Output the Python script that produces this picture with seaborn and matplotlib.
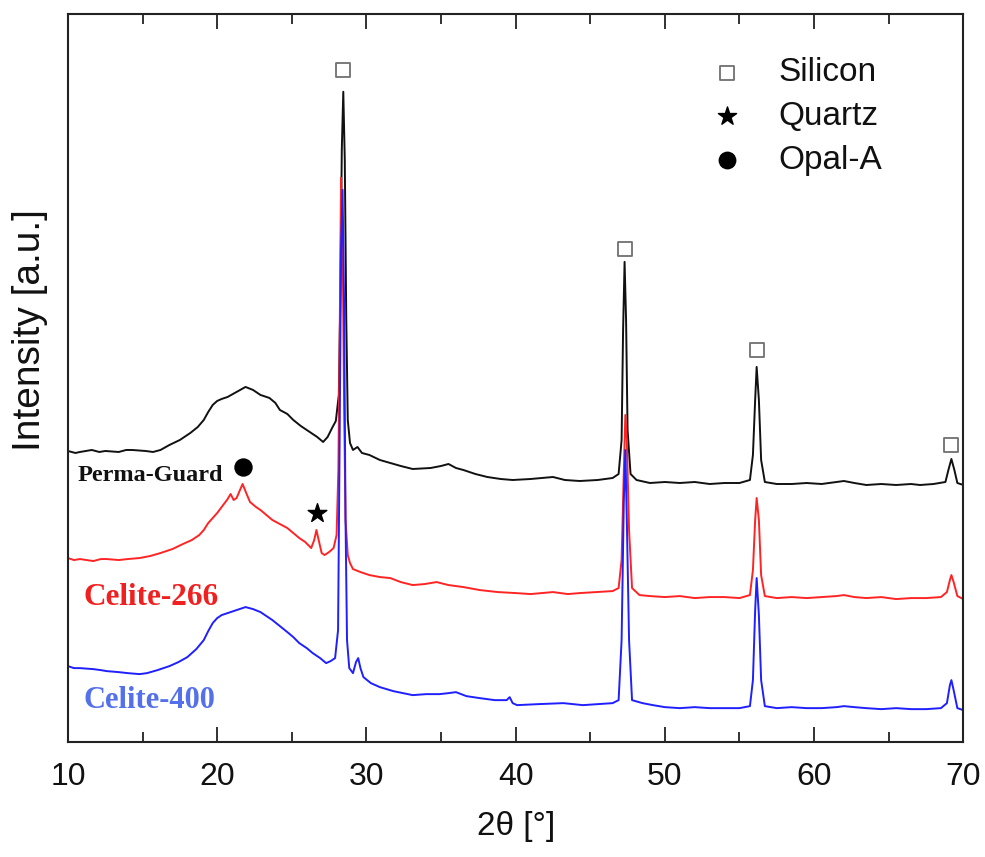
import numpy as np
import pandas as pd
import matplotlib
matplotlib.use("Agg")
import matplotlib.pyplot as plt
import seaborn as sns

# XRD patterns: (2-theta [deg], intensity [a.u.]) with vertical offsets baked in
PERMA_GUARD = [
    (10.0, 291), (10.5, 289), (10.8, 290), (11.6, 292), (12.1, 290), (12.5, 291),
    (13.4, 290), (13.9, 292), (14.3, 292), (15.2, 291), (15.7, 290), (16.2, 292),
    (16.8, 297), (17.5, 302), (18.2, 309), (18.7, 315), (19.1, 322), (19.4, 330),
    (19.7, 337), (20.0, 341), (20.3, 343), (20.7, 345), (21.3, 350), (21.9, 355),
    (22.4, 352), (22.9, 347), (23.5, 344), (23.9, 339), (24.2, 332), (24.7, 328),
    (25.1, 322), (25.6, 316), (26.2, 310), (26.7, 305), (27.1, 300), (27.4, 305),
    (27.7, 314), (27.95, 321), (28.15, 347), (28.25, 442), (28.35, 592), (28.45, 650),
    (28.55, 582), (28.65, 422), (28.75, 322), (28.9, 299), (29.1, 292), (29.4, 295),
    (29.7, 289), (30.2, 287), (30.9, 282), (31.6, 279), (32.3, 276), (33.1, 273),
    (34.3, 274), (35.0, 276), (35.5, 278), (36.0, 274), (36.5, 272), (37.3, 268),
    (38.1, 265), (39.0, 263), (39.8, 262), (41.0, 263), (42.5, 265), (43.3, 262),
    (44.3, 261), (45.5, 262), (46.5, 264), (46.9, 268), (47.1, 302), (47.2, 412),
    (47.3, 480), (47.4, 422), (47.5, 312), (47.7, 268), (48.1, 262), (49.0, 259),
    (50.0, 260), (51.0, 259), (52.0, 260), (53.0, 258), (54.0, 259), (55.0, 259),
    (55.7, 262), (55.9, 287), (56.05, 342), (56.15, 375), (56.3, 342), (56.45, 282),
    (56.7, 260), (57.5, 258), (58.5, 258), (59.5, 259), (60.5, 258), (61.5, 260),
    (62.0, 261), (62.7, 259), (63.5, 257), (64.5, 258), (65.5, 257), (66.5, 258),
    (67.1, 257), (68.0, 258), (68.8, 260), (69.0, 272), (69.2, 283), (69.4, 272),
    (69.6, 259), (70.0, 257),
]

CELITE_266 = [
    (10.0, 184), (10.4, 182), (10.8, 183), (11.7, 181), (12.2, 183), (12.6, 183),
    (13.4, 182), (14.0, 183), (14.8, 184), (15.5, 186), (16.2, 189), (17.0, 193),
    (17.7, 198), (18.3, 202), (18.8, 207), (19.1, 212), (19.4, 219), (19.7, 224),
    (20.0, 229), (20.4, 237), (20.7, 243), (20.9, 248), (21.1, 242), (21.3, 244),
    (21.7, 258), (22.0, 247), (22.2, 240), (22.6, 235), (22.9, 232), (23.3, 227),
    (23.7, 222), (24.2, 218), (24.7, 214), (25.1, 209), (25.5, 204), (25.9, 200),
    (26.3, 194), (26.5, 202), (26.65, 212), (26.8, 202), (27.0, 189), (27.2, 187),
    (27.5, 190), (27.8, 194), (28.0, 207), (28.12, 272), (28.2, 392), (28.3, 564),
    (28.4, 512), (28.5, 342), (28.6, 222), (28.75, 187), (28.9, 179), (29.1, 173),
    (29.6, 170), (30.2, 167), (30.9, 165), (31.6, 164), (32.3, 160), (33.1, 157),
    (33.9, 158), (34.7, 160), (35.5, 157), (36.5, 155), (37.6, 152), (38.8, 150),
    (40.0, 149), (41.0, 148), (42.5, 150), (43.5, 148), (44.3, 149), (45.4, 150),
    (46.5, 151), (46.9, 154), (47.1, 182), (47.25, 272), (47.35, 327), (47.45, 302),
    (47.6, 212), (47.8, 154), (48.3, 147), (49.0, 146), (50.0, 145), (51.0, 146),
    (52.0, 144), (53.0, 145), (54.0, 145), (55.0, 144), (55.7, 147), (55.9, 172),
    (56.05, 222), (56.15, 244), (56.3, 222), (56.45, 167), (56.7, 146), (57.5, 144),
    (58.5, 145), (59.5, 144), (60.5, 145), (61.5, 146), (62.0, 147), (62.7, 145),
    (63.5, 144), (64.5, 145), (65.5, 143), (66.5, 144), (67.5, 144), (68.5, 145),
    (68.9, 150), (69.1, 162), (69.2, 167), (69.35, 160), (69.6, 146), (70.0, 143),
]

CELITE_400 = [
    (10.0, 76), (10.4, 74), (10.8, 74), (11.7, 73), (12.2, 72), (12.6, 71),
    (13.4, 70), (14.0, 69), (14.8, 68), (15.3, 69), (16.0, 72), (16.8, 76),
    (17.4, 80), (18.0, 85), (18.6, 93), (19.1, 102), (19.4, 111), (19.7, 119),
    (20.0, 124), (20.3, 127), (20.7, 129), (21.3, 132), (21.9, 135), (22.4, 133),
    (22.9, 130), (23.3, 126), (23.7, 122), (24.2, 116), (24.7, 110), (25.1, 105),
    (25.5, 99), (26.0, 94), (26.4, 89), (26.9, 84), (27.3, 79), (27.6, 81),
    (27.9, 84), (28.1, 112), (28.2, 292), (28.3, 492), (28.4, 552), (28.5, 442),
    (28.6, 222), (28.7, 102), (28.85, 74), (29.1, 69), (29.3, 80), (29.45, 84),
    (29.6, 74), (29.8, 65), (30.3, 59), (30.9, 55), (31.8, 51), (33.1, 47),
    (34.0, 48), (34.9, 48), (35.5, 49), (36.0, 50), (36.7, 46), (37.6, 44),
    (38.6, 42), (39.4, 42), (39.6, 45), (39.8, 39), (40.1, 37), (41.5, 38),
    (43.2, 39), (44.5, 37), (45.5, 38), (46.5, 39), (46.9, 42), (47.1, 102),
    (47.25, 242), (47.35, 292), (47.45, 222), (47.6, 102), (47.8, 42), (48.5, 39),
    (49.2, 37), (50.0, 35), (51.0, 34), (52.0, 35), (53.0, 34), (54.0, 34),
    (55.0, 34), (55.7, 36), (55.9, 62), (56.05, 132), (56.15, 164), (56.3, 127),
    (56.45, 62), (56.7, 36), (57.5, 34), (58.5, 35), (59.5, 34), (60.5, 34),
    (61.5, 35), (62.0, 36), (62.7, 35), (63.5, 34), (64.5, 33), (65.5, 34),
    (66.5, 33), (67.5, 33), (68.5, 34), (68.9, 39), (69.1, 57), (69.2, 62),
    (69.35, 52), (69.6, 34), (70.0, 32),
]

SAMPLES = ["Perma-Guard", "Celite-266", "Celite-400"]
LINE_COLORS = ["#111111", "#ff2424", "#1f1fff"]
LABEL_COLORS = ["#111111", "#f02020", "#5470ea"]

# phase markers (2-theta, intensity)
SILICON_MARKS = [(28.45, 672), (47.3, 493), (56.2, 392), (69.2, 297)]
QUARTZ_MARKS = [(26.7, 229)]
OPAL_MARKS = [(21.7, 275)]
LEGEND_ENTRIES = ["Silicon", "Quartz", "Opal-A"]

frames = []
for name, pts in zip(SAMPLES, [PERMA_GUARD, CELITE_266, CELITE_400]):
    arr = np.array(pts, dtype=float)
    frames.append(pd.DataFrame({"two_theta": arr[:, 0], "intensity": arr[:, 1], "sample": name}))
df = pd.concat(frames, ignore_index=True)

sns.set_theme(style="white")
plt.rcParams["font.family"] = ["Liberation Sans", "DejaVu Sans"]

fig = plt.figure(figsize=(9.85, 8.57), dpi=100)
ax = fig.add_axes([0.069, 0.134, 0.909, 0.850])

sns.lineplot(data=df, x="two_theta", y="intensity", hue="sample", hue_order=SAMPLES,
             palette=LINE_COLORS, estimator=None, sort=False, linewidth=1.4,
             legend=False, ax=ax)

ax.set_xlim(10, 70)
ax.set_ylim(0, 728)
ax.set_xticks(np.arange(10, 71, 10))
ax.set_xticks(np.arange(15, 70, 10), minor=True)
ax.set_yticks([])
ax.tick_params(axis="x", which="both", direction="in", top=True, bottom=True,
               colors="#222222", width=1.3)
ax.tick_params(axis="x", which="major", length=11, pad=14)
ax.tick_params(axis="x", which="minor", length=7)
for lab in ax.get_xticklabels():
    lab.set_fontsize(23)
    lab.set_color("#111111")
for sp in ax.spines.values():
    sp.set_visible(True)
    sp.set_color("#222222")
    sp.set_linewidth(1.5)

ax.set_xlabel("2θ [°]", fontsize=24, color="#111111", labelpad=14)
ax.set_ylabel("Intensity [a.u.]", fontsize=28, color="#111111")
ax.yaxis.set_label_coords(-0.022, 0.566)

# phase markers above the reflections
sx, sy = zip(*SILICON_MARKS)
ax.scatter(sx, sy, marker="s", s=95, facecolors="white", edgecolors="#707070", linewidths=1.3, zorder=5)
qx, qy = zip(*QUARTZ_MARKS)
ax.scatter(qx, qy, marker="*", s=200, color="black", zorder=5)
ox, oy = zip(*OPAL_MARKS)
ax.scatter(ox, oy, marker="o", s=150, color="black", zorder=5)

# sample names
ax.text(10.67, 266, "Perma-Guard", family=["Liberation Serif"], weight="bold", fontsize=17.5,
        color=LABEL_COLORS[0], va="center", ha="left")
ax.text(11.07, 145, "Celite-266", family=["Liberation Serif"], weight="bold", fontsize=22.5,
        color=LABEL_COLORS[1], va="center", ha="left")
ax.text(11.07, 42, "Celite-400", family=["Liberation Serif"], weight="bold", fontsize=22,
        color=LABEL_COLORS[2], va="center", ha="left")

# phase key
key_y = [0.919, 0.859, 0.799]
ax.scatter([0.736], [key_y[0]], marker="s", s=100, facecolors="white", edgecolors="#707070",
           linewidths=1.3, transform=ax.transAxes, zorder=5)
ax.scatter([0.736], [key_y[1]], marker="*", s=190, color="black", transform=ax.transAxes, zorder=5)
ax.scatter([0.736], [key_y[2]], marker="o", s=140, color="black", transform=ax.transAxes, zorder=5)
for yy, txt in zip(key_y, LEGEND_ENTRIES):
    ax.text(0.793, yy, txt, transform=ax.transAxes, fontsize=24, color="#111111",
            va="center", ha="left")

fig.savefig("out.png", dpi=100, facecolor="white")
